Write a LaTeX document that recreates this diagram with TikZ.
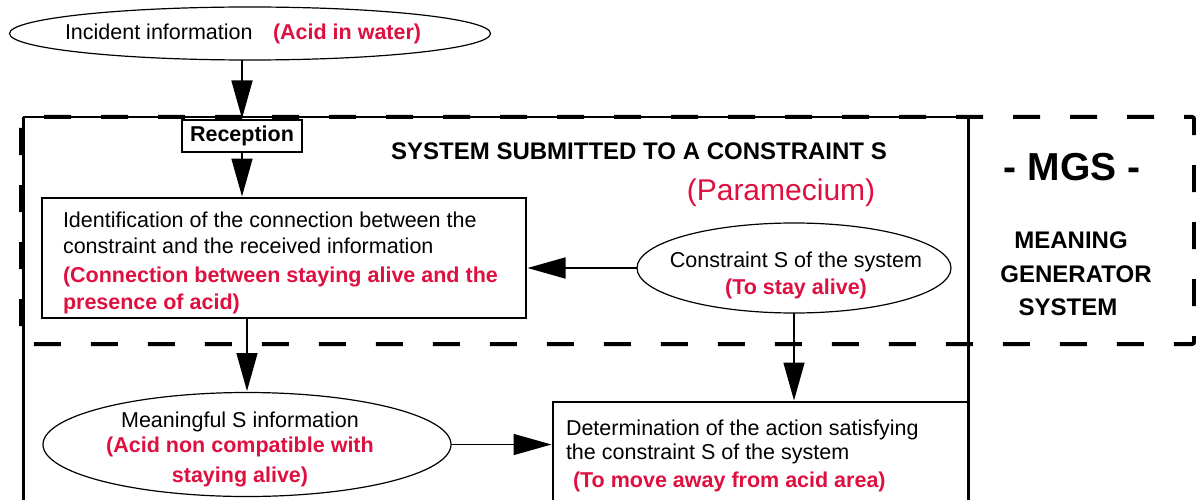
\documentclass[tikz,border=0pt]{standalone}
\usepackage{fontspec}
\setmainfont{Liberation Sans}
\usetikzlibrary{arrows.meta,shapes.geometric}
\definecolor{accent}{RGB}{222,16,64}
\begin{document}
\begin{tikzpicture}[x=1pt,y=-1pt,
  every node/.style={inner sep=0pt, outer sep=0pt},
  oval/.style={ellipse, draw, line width=1.2pt, inner sep=0pt},
  boxnode/.style={rectangle, draw, line width=1.3pt, anchor=north west},
  arr/.style={line width=1.6pt, -{Triangle[length=38pt,width=21pt]}, shorten >=1.5pt},
  txt/.style={font=\fontsize{21.5}{25}\selectfont, anchor=base west},
  redb/.style={font=\fontsize{21.5}{25}\selectfont\bfseries, text=accent, anchor=base west},
  caps/.style={font=\fontsize{24}{28}\selectfont\bfseries, anchor=base},
]
\useasboundingbox (0,0) rectangle (1196,500);
\clip (0,0) rectangle (1196,500);

% system frame (solid)
\draw[line width=1.8pt] (23,117) -- (968,117);
\draw[line width=3pt] (23,520) -- (23,117);
\draw[line width=3pt] (968,117) -- (968,520);

% MGS dashed frame
\draw[line width=4pt, dash pattern=on 27pt off 30pt, dash phase=48pt, rounded corners=2pt]
  (21,117) rectangle (1194,344);

% incident information
\node[oval, minimum width=481pt, minimum height=53pt] (incident) at (250,33.5) {};
\node[txt] (inctext) at (65,40) {Incident information};
\node[redb] (inctag) at (273,40) {(Acid in water)};

% reception
\node[boxnode, minimum width=120pt, minimum height=32pt, font=\fontsize{21.5}{25}\selectfont\bfseries] (reception) at (182,120) {Reception};

% title
\node[caps] (title) at (639,160) {SYSTEM SUBMITTED TO A CONSTRAINT S};
\node[font=\fontsize{30}{34}\selectfont, text=accent, anchor=base] (param) at (781,200) {(Paramecium)};

% MGS labels
\node[font=\fontsize{39}{44}\selectfont\bfseries, anchor=base] (mgs) at (1072,180) {- MGS -};
\node[caps] (mg1) at (1071,248) {MEANING};
\node[caps] (mg2) at (1076,282) {GENERATOR};
\node[caps] (mg3) at (1068,315) {SYSTEM};

% identification box
\node[boxnode, minimum width=484pt, minimum height=120pt] (ident) at (42,198) {};
\node[txt] (id1) at (63,227) {Identification of the connection between the};
\node[txt] (id2) at (63,253) {constraint and the received information};
\node[redb] (id3) at (63,282) {(Connection between staying alive and the};
\node[redb] (id4) at (63,309) {presence of acid)};

% constraint ellipse
\node[oval, minimum width=314pt, minimum height=90pt] (constraint) at (794,268) {};
\node[txt, anchor=base] (c1) at (796,267) {Constraint S of the system};
\node[redb, anchor=base] (c2) at (796,294) {(To stay alive)};

% meaningful ellipse
\node[oval, minimum width=408pt, minimum height=104pt] (meaning) at (247,444.5) {};
\node[txt, anchor=base] (m1) at (240,427) {Meaningful S information};
\node[redb, anchor=base] (m2) at (240,452) {(Acid non compatible with};
\node[redb, anchor=base] (m3) at (240,482) {staying alive)};

% determination box
\node[boxnode, minimum width=416pt, minimum height=130pt] (determ) at (553,402) {};
\node[txt] (d1) at (566,435) {Determination of the action satisfying};
\node[txt] (d2) at (566,459) {the constraint S of the system};
\node[redb] (d3) at (573,487) {(To move away from acid area)};

% connectors
\draw[arr] (reception.north |- incident.south) -- (reception.north);
\draw[arr] (reception.south) -- (reception.south |- ident.north);
\draw[arr] (constraint.west) -- (constraint.west -| ident.east);
\draw[arr] (meaning.north |- ident.south) -- (meaning.north);
\draw[arr] (constraint.south) -- (constraint.south |- determ.north);
\draw[arr] (meaning.east) -- (meaning.east -| determ.west);
\end{tikzpicture}
\end{document}
